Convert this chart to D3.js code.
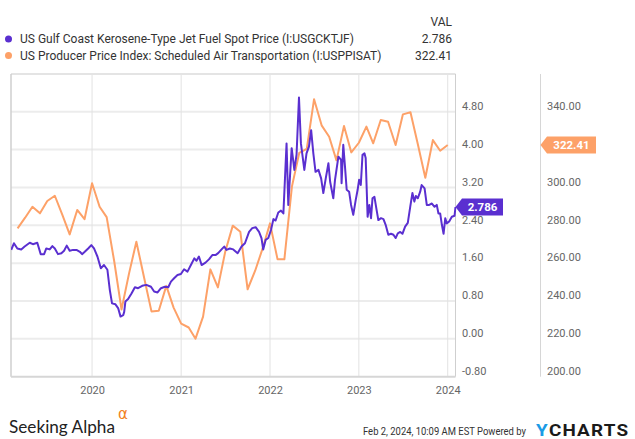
<!DOCTYPE html>
<html>
<head>
<meta charset="utf-8">
<script src="https://cdn.jsdelivr.net/npm/d3@7"></script>
<style>
  html, body { margin: 0; padding: 0; background: #fff; }
  svg { display: block; font-family: Roboto, "Noto Sans", sans-serif; }
</style>
</head>
<body>
<svg id="chart" width="635" height="439"></svg>
<script>
// ---------------- DATA ----------------
const seriesNames = [
  "US Gulf Coast Kerosene-Type Jet Fuel Spot Price (I:USGCKTJF)",
  "US Producer Price Index: Scheduled Air Transportation (I:USPPISAT)"
];
const seriesLast = ["2.786", "322.41"];
const startDate = "2019-02-02";
const endDate = "2024-02-02";

// Jet fuel: days since start date, USD/gal
const jetDay = [1,12,26,42,56,77,90,108,122,136,
  145,159,170,180,193,207,218,229,241,255,
  269,283,292,303,317,330,341,355,369,382,
  396,406,415,429,440,450,461,465,470,481,
  495,509,522,539,556,575,588,602,616,632,
  646,657,670,684,698,711,725,739,753,762,
  772,783,799,813,827,840,851,865,876,885,
  899,913,931,947,961,978,991,1005,1019,1029,
  1036,1046,1057,1068,1078,1087,1098,1109,1119,1132,
  1139,1153,1164,1173,1183,1191,1205,1214,1224,1233,
  1242,1251,1263,1274,1283,1293,1304,1311,1324,1331,
  1345,1356,1358,1365,1372,1379,1389,1397,1406,1416,
  1424,1430,1437,1444,1452,1457,1465,1472,1479,1485,
  1493,1502,1509,1520,1530,1539,1550,1561,1571,1580,
  1589,1599,1608,1619,1630,1640,1649,1657,1663,1671,
  1681,1687,1699,1708,1718,1729,1740,1749,1756,1763,
  1770,1777,1784,1790,1800,1811,1822,1826];
const jetVal = [1.88,2.02,1.91,1.89,1.95,2.03,2.00,2.03,1.79,1.79,
  1.91,1.89,1.96,1.91,1.79,1.81,1.86,1.97,1.86,1.88,
  1.88,1.84,1.79,1.84,1.91,1.98,1.91,1.74,1.49,1.56,
  1.46,1.03,0.75,0.73,0.65,0.47,0.50,0.57,0.79,0.84,
  0.96,1.09,1.07,1.12,1.14,1.10,1.00,0.98,1.07,1.10,
  1.09,1.21,1.28,1.35,1.37,1.47,1.42,1.56,1.70,1.65,
  1.74,1.56,1.61,1.68,1.77,1.77,1.81,1.89,1.95,1.88,
  1.91,1.89,1.81,1.95,2.02,2.26,2.34,2.36,2.26,2.13,
  1.89,2.09,2.13,2.30,2.53,2.50,2.67,2.71,2.65,4.13,
  2.83,4.03,3.57,3.89,5.10,4.13,3.57,3.92,4.06,4.41,
  3.92,3.53,3.57,3.39,3.08,3.39,3.71,3.32,2.97,3.36,
  3.85,3.78,3.29,4.10,3.64,3.15,3.11,2.83,2.62,2.93,
  3.15,3.36,3.25,3.89,3.92,3.82,2.58,2.83,2.55,2.97,
  3.00,2.72,2.51,2.55,2.53,2.41,2.20,2.22,2.20,2.13,
  2.23,2.26,2.22,2.37,2.45,2.79,3.08,2.90,3.02,2.97,
  3.11,3.25,3.18,2.83,2.83,2.86,2.79,2.83,2.65,2.65,
  2.41,2.22,2.55,2.44,2.48,2.58,2.60,2.786];

// PPI: monthly
const ppiMonth = ["2019-03","2019-04","2019-05","2019-06","2019-07","2019-08","2019-09","2019-10","2019-11","2019-12",
  "2020-01","2020-02","2020-03","2020-04","2020-05","2020-06","2020-07","2020-08","2020-09","2020-10","2020-11","2020-12",
  "2021-01","2021-02","2021-03","2021-04","2021-05","2021-06","2021-07","2021-08","2021-09","2021-10","2021-11","2021-12",
  "2022-01","2022-02","2022-03","2022-04","2022-05","2022-06","2022-07","2022-08","2022-09","2022-10","2022-11","2022-12",
  "2023-01","2023-02","2023-03","2023-04","2023-05","2023-06","2023-07","2023-08","2023-09","2023-10","2023-11","2023-12",
  "2024-01"];
const ppiVal = [278.4,284.0,289.8,286.3,292.8,295.6,285.5,275.2,288.1,283.2,
  302.2,289.8,284.3,261.0,235.5,254.6,271.3,252.8,234.5,234.8,248.0,236.5,
  228.0,226.0,220.1,231.7,256.7,247.2,266.0,279.8,276.6,246.2,256.0,267.5,
  281.0,262.0,262.0,300.4,318.2,320.4,346.6,332.8,326.8,314.3,332.5,318.5,
  323.6,332.1,323.3,335.6,334.7,322.4,338.6,339.7,322.4,305.1,325.0,319.4,
  322.41];

const leftTicks = [-0.8, 0, 0.8, 1.6, 2.4, 3.2, 4.0, 4.8];
// 320.00 sits under the value badge in the reference, so it is not shown
const rightTicks = [200, 220, 240, 260, 280, 300, 340];

// ---------------- CHART ----------------
const svg = d3.select("#chart");
const purple = "#5a2fd0";
const orange = "#fda168";
const plot = { left: 11, right: 455.5, top: 74, bottom: 376.7 };

const parseDay = d3.timeParse("%Y-%m-%d");
const parseMonth = d3.timeParse("%Y-%m");
const t0 = parseDay(startDate);

const x = d3.scaleTime().domain([t0, parseDay(endDate)]).range([plot.left, plot.right]);
const yL = d3.scaleLinear().domain([-0.8, 4.8]).range([plot.bottom, 111.7]);
const yR = d3.scaleLinear().domain([200, 340]).range([plot.bottom, 111.7]);

const jet = jetDay.map((d, i) => ({ date: d3.timeDay.offset(t0, d), v: jetVal[i] }));
const ppi = ppiMonth.map((m, i) => ({ date: parseMonth(m), v: ppiVal[i] }));

// gridlines horizontal
svg.append("g").selectAll("line").data(leftTicks.slice(1)).join("line")
  .attr("x1", plot.left).attr("x2", plot.right)
  .attr("y1", d => yL(d)).attr("y2", d => yL(d))
  .attr("stroke", "#ececec").attr("stroke-width", 2);

// vertical year gridlines
const years = x.ticks(d3.timeYear.every(1));
svg.append("g").selectAll("line").data(years).join("line")
  .attr("x1", d => x(d)).attr("x2", d => x(d))
  .attr("y1", plot.top).attr("y2", plot.bottom)
  .attr("stroke", "#e2e2e2").attr("stroke-width", 1);

// borders
svg.append("line").attr("x1", plot.left).attr("x2", plot.right).attr("y1", plot.top).attr("y2", plot.top)
  .attr("stroke", "#e4e4e4").attr("stroke-width", 2);
svg.append("line").attr("x1", plot.left).attr("x2", plot.left).attr("y1", plot.top).attr("y2", plot.bottom)
  .attr("stroke", "#cfcfcf").attr("stroke-width", 1.5);
svg.append("line").attr("x1", plot.right).attr("x2", plot.right).attr("y1", plot.top).attr("y2", plot.bottom)
  .attr("stroke", "#cfcfcf").attr("stroke-width", 1);
svg.append("line").attr("x1", plot.left).attr("x2", plot.right).attr("y1", plot.bottom).attr("y2", plot.bottom)
  .attr("stroke", "#d6d6d6").attr("stroke-width", 2);
svg.append("line").attr("x1", 540.5).attr("x2", 540.5).attr("y1", plot.top).attr("y2", plot.bottom)
  .attr("stroke", "#d6d6d6").attr("stroke-width", 1);

// clip
svg.append("clipPath").attr("id", "clip").append("rect")
  .attr("x", plot.left).attr("y", plot.top).attr("width", plot.right - plot.left + 1).attr("height", plot.bottom - plot.top);

// lines
svg.append("path").datum(ppi)
  .attr("clip-path", "url(#clip)")
  .attr("fill", "none").attr("stroke", orange).attr("stroke-width", 2).attr("stroke-linejoin", "round")
  .attr("d", d3.line().x(d => x(d.date)).y(d => yR(d.v)));
svg.append("path").datum(jet)
  .attr("clip-path", "url(#clip)")
  .attr("fill", "none").attr("stroke", purple).attr("stroke-width", 2).attr("stroke-linejoin", "round")
  .attr("d", d3.line().x(d => x(d.date)).y(d => yL(d.v)));

// axes
function styleAxis(g) {
  g.select(".domain").remove();
  g.selectAll(".tick line").remove();
  g.selectAll("text").attr("fill", "#666").style("font-size", "11px").style("font-family", "Roboto, sans-serif");
}
const axL = svg.append("g").attr("transform", `translate(${plot.right},0)`)
  .call(d3.axisRight(yL).tickValues(leftTicks).tickFormat(d => d.toFixed(2)).tickSize(0).tickPadding(6.5));
styleAxis(axL);
axL.selectAll("text").attr("dy", "-0.2em");
const axR = svg.append("g").attr("transform", `translate(540,0)`)
  .call(d3.axisRight(yR).tickValues(rightTicks).tickFormat(d => d.toFixed(2)).tickSize(0).tickPadding(7));
styleAxis(axR);
axR.selectAll("text").attr("dy", "-0.2em");
const axX = svg.append("g").attr("transform", `translate(0,${plot.bottom})`)
  .call(d3.axisBottom(x).ticks(d3.timeYear.every(1)).tickFormat(d3.timeFormat("%Y")).tickSize(0).tickPadding(10));
styleAxis(axX);

// value badges
function badge(tipX, y, w, color, label) {
  const h = 17, a = 6.5;
  svg.append("path")
    .attr("d", `M${tipX},${y} L${tipX + a},${y - h / 2} L${tipX + a + w},${y - h / 2} L${tipX + a + w},${y + h / 2} L${tipX + a},${y + h / 2} Z`)
    .attr("fill", color);
  svg.append("text").attr("x", tipX + a + w / 2).attr("y", y).attr("dy", "0.36em")
    .attr("text-anchor", "middle").attr("fill", "#fff")
    .style("font-size", "11.5px").style("font-weight", "bold").text(label);
}
badge(plot.right, yL(jetVal[jetVal.length - 1]), 41, purple, seriesLast[0]);
badge(540.5, yR(ppiVal[ppiVal.length - 1]), 49, orange, seriesLast[1]);

// legend
const legend = svg.append("g");
legend.append("text").attr("x", 452).attr("y", 22).attr("dy", "0.35em").attr("text-anchor", "end")
  .attr("fill", "#333").style("font-size", "12px").text("VAL");
[purple, orange].forEach((c, i) => {
  const ly = 39 + i * 16.5;
  legend.append("circle").attr("cx", 8.5).attr("cy", ly).attr("r", 3.5).attr("fill", c);
  legend.append("text").attr("x", 20).attr("y", ly).attr("dy", "0.35em")
    .attr("fill", "#333").style("font-size", "12px").text(seriesNames[i]);
  legend.append("text").attr("x", 452).attr("y", ly).attr("dy", "0.35em").attr("text-anchor", "end")
    .attr("fill", "#333").style("font-size", "12px").text(seriesLast[i]);
});

// fit a text horizontally into a given width by scaling (condensed look)
function fitText(sel, x0, y0, width) {
  const len = sel.node().getComputedTextLength();
  sel.attr("transform", `translate(${x0},${y0}) scale(${width / len},1)`);
}

// footer: Seeking Alpha logo (one text element, alpha as superscript tspan)
const sa = svg.append("text").attr("x", 9).attr("y", 433)
  .style("font-family", "Lato, 'Open Sans', sans-serif").style("font-size", "18px");
sa.append("tspan").attr("fill", "#222").attr("textLength", 106).attr("lengthAdjust", "spacingAndGlyphs").text("Seeking Alpha");
sa.append("tspan").attr("x", 118).attr("dy", -14).attr("fill", "#f2811d")
  .style("font-family", "'DejaVu Sans', sans-serif").style("font-size", "15px").text("α");

// footer: timestamp
const ts = svg.append("text").attr("fill", "#333").style("font-size", "11px")
  .text("Feb 2, 2024, 10:09 AM EST Powered by");
fitText(ts, 363, 435, 163);

// footer: YCHARTS logo
const yc = svg.append("text").style("font-size", "16px").style("font-weight", "bold")
  .style("letter-spacing", "1px");
yc.append("tspan").attr("fill", "#1a9be6").text("Y");
yc.append("tspan").attr("fill", "#1a1a1a").text("CHARTS");
fitText(yc, 536, 436, 93);
</script>
</body>
</html>
